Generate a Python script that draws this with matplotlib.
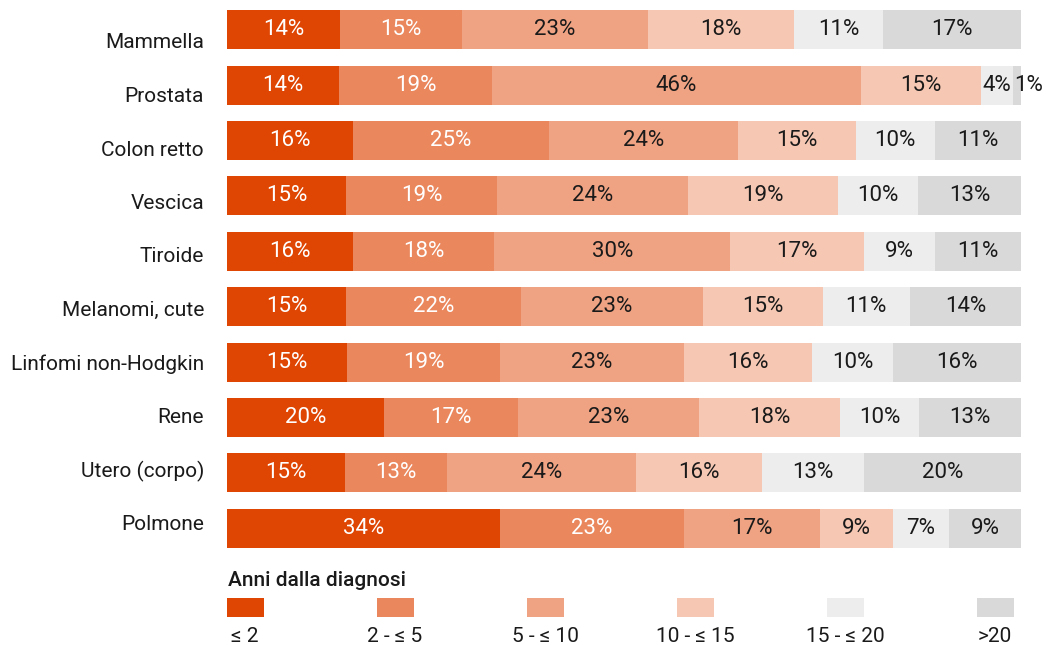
import matplotlib
matplotlib.use('Agg')
import matplotlib.pyplot as plt
from matplotlib.patches import Rectangle
import numpy as np

plt.rcParams['font.family'] = ['Roboto', 'DejaVu Sans']

categories = ['Mammella', 'Prostata', 'Colon retto', 'Vescica', 'Tiroide',
              'Melanomi, cute', 'Linfomi non-Hodgkin', 'Rene', 'Utero (corpo)', 'Polmone']
le2 = [14, 14, 16, 15, 16, 15, 15, 20, 15, 34]
y2_5 = [15, 19, 25, 19, 18, 22, 19, 17, 13, 23]
y5_10 = [23, 46, 24, 24, 30, 23, 23, 23, 24, 17]
y10_15 = [18, 15, 15, 19, 17, 15, 16, 18, 16, 9]
y15_20 = [11, 4, 10, 10, 9, 11, 10, 10, 13, 7]
gt20 = [17, 1, 11, 13, 11, 14, 16, 13, 20, 9]

series = [le2, y2_5, y5_10, y10_15, y15_20, gt20]
legend_labels = ['≤ 2', '2 - ≤ 5', '5 - ≤ 10', '10 - ≤ 15', '15 - ≤ 20', '>20']
colors = ['#DF4503', '#EA875D', '#F0A383', '#F6C7B3', '#EDEDED', '#D9D9D9']
text_colors = ['white', 'white', '#1a1a1a', '#1a1a1a', '#1a1a1a', '#1a1a1a']

W, H = 1046, 645
fig = plt.figure(figsize=(W / 100, H / 100), dpi=100)
ax = fig.add_axes([227 / W, 1 - 556 / H, 794 / W, 554 / H])

data = np.array(series, dtype=float)
totals = data.sum(axis=0)
shares = data / totals * 100
y = np.arange(len(categories))
left = np.zeros(len(categories))
for i, (vals, sh) in enumerate(zip(series, shares)):
    ax.barh(y, sh, left=left, height=0.705, color=colors[i], edgecolor='none')
    for j in range(len(categories)):
        if sh[j] < 2:
            # too narrow: start the label at the segment instead of centring it
            ax.text(left[j] + 0.1, y[j], f"{vals[j]}%", ha='left', va='center',
                    fontsize=16, color=text_colors[i], clip_on=False)
        else:
            ax.text(left[j] + sh[j] / 2, y[j], f"{vals[j]}%", ha='center', va='center',
                    fontsize=16, color=text_colors[i])
    left += sh

ax.set_xlim(0, 100)
ax.set_ylim(len(categories) - 0.5, -0.5)
ax.set_xticks([])
ax.set_yticks([])
for s in ax.spines.values():
    s.set_visible(False)

# category labels sit on their own slightly tighter grid than the bars
for j, cat in enumerate(categories):
    fig.text(204 / W, 1 - (43 + 53.5 * j) / H, cat, fontsize=15, ha='right', va='center',
             color='#1a1a1a')

# legend
fig.text(228 / W, 1 - 580 / H, 'Anni dalla diagnosi', fontsize=15, va='center', ha='left',
         color='#1a1a1a', fontweight='medium')
for k, (c, lab) in enumerate(zip(colors, legend_labels)):
    x0 = 227 + 150 * k
    fig.add_artist(Rectangle((x0 / W, 1 - 617 / H), 37 / W, 19 / H,
                             transform=fig.transFigure, color=c, lw=0))
    fig.text((x0 + 18) / W, 1 - 636 / H, lab, fontsize=15, va='center', ha='center',
             color='#1a1a1a')

fig.savefig('out.png', dpi=100)
